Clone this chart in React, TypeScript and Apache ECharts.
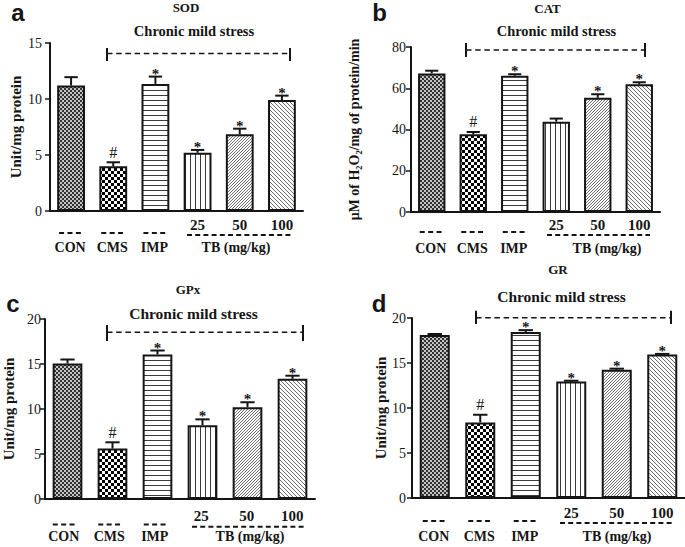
import React, { useEffect, useRef } from "react";
import * as echarts from "echarts";

// ---------- data ----------
const categories = ["CON", "CMS", "IMP", "25", "50", "100"];
const panelLetters = ["a", "b", "c", "d"];
const panelTitles = ["SOD", "CAT", "GPx", "GR"];
const yAxisNames = ["Unit/mg protein", "μM of H₂O₂/mg of protein/min", "Unit/mg protein", "Unit/mg protein"];
const yMax = [15, 80, 20, 20];
const yInterval = [5, 20, 5, 5];
const stressLabel = "Chronic mild stress";
const doseGroupLabel = "TB (mg/kg)";

const sodMean = [11.2, 4.0, 11.35, 5.2, 6.85, 9.9];
const sodErr = [0.75, 0.35, 0.65, 0.25, 0.5, 0.4];
const sodMarks = ["", "#", "*", "*", "*", "*"];

const catMean = [67.2, 37.7, 66.1, 43.8, 55.4, 61.9];
const catErr = [1.3, 1.1, 0.7, 1.5, 1.7, 1.0];
const catMarks = ["", "#", "*", "", "*", "*"];

const gpxMean = [15.05, 5.6, 16.05, 8.2, 10.2, 13.35];
const gpxErr = [0.45, 0.7, 0.45, 0.65, 0.55, 0.35];
const gpxMarks = ["", "#", "*", "*", "*", "*"];

const grMean = [18.1, 8.4, 18.45, 12.95, 14.25, 15.95];
const grErr = [0.12, 0.85, 0.2, 0.08, 0.12, 0.06];
const grMarks = ["", "#", "*", "*", "*", "*"];

const means = [sodMean, catMean, gpxMean, grMean];
const errs = [sodErr, catErr, gpxErr, grErr];
const marks = [sodMarks, catMarks, gpxMarks, grMarks];

// ---------- layout ----------
const LAYOUT = [
  { grid: { left: 50, top: 43, width: 253, height: 168 }, letter: [18, 12.5], title: [186, 7], stress: [194, 30.5], stressSize: 14.5,
    bracket: { x1: 107, x2: 290, y: 53.5, t: 48, b: 61 }, nameGap: 27, labelMargin: 8,
    numY: 225, dashY: 233, nameY: 247, tbY: 235, tbX: [187, 293], tbTextX: 236 },
  { grid: { left: 411, top: 47, width: 249, height: 165 }, letter: [379.5, 12.5], title: [547.5, 8], stress: [556.5, 31.3], stressSize: 14.4,
    bracket: { x1: 466, x2: 645, y: 50, t: 43, b: 57 }, nameGap: 50, labelMargin: 5,
    numY: 225, dashY: 232, nameY: 248, tbY: 235, tbX: [547, 650], tbTextX: 607 },
  { grid: { left: 42, top: 319, width: 273, height: 180 }, letter: [13, 303.5], title: [188, 289.5], stress: [193.5, 313], stressSize: 15.5,
    bracket: { x1: 107, x2: 303, y: 332.3, t: 325, b: 341 }, nameGap: 29, labelMargin: 4,
    numY: 516, dashY: 524.5, nameY: 536.7, tbY: 526.7, tbX: [192, 304], tbTextX: 250 },
  { grid: { left: 412, top: 318, width: 273, height: 180 }, letter: [379, 303.5], title: [558, 269], stress: [561.5, 296.7], stressSize: 15.5,
    bracket: { x1: 476, x2: 671, y: 317.7, t: 310.7, b: 324 }, nameGap: 20.5, labelMargin: 6,
    numY: 512.7, dashY: 521, nameY: 536.5, tbY: 523, tbX: [560, 673], tbTextX: 617 },
];

const SERIF = "'Liberation Serif', 'Times New Roman', serif";
const SANS = "'Liberation Sans', Arial, sans-serif";
const INK = "#151515";

function makePattern(kind: string) {
  const c = document.createElement("canvas");
  let w = 4, h = 4;
  if (kind === "fine") { w = 4; h = 4; }
  if (kind === "check") { w = 6; h = 6; }
  if (kind === "hline") { w = 6; h = 5; }
  if (kind === "vline") { w = 5; h = 6; }
  if (kind === "diagR") { w = 3; h = 3; }
  if (kind === "diagL") { w = 4; h = 4; }
  c.width = w; c.height = h;
  const ctx = c.getContext("2d")!;
  ctx.fillStyle = "#ffffff";
  ctx.fillRect(0, 0, w, h);
  if (kind === "fine") {
    ctx.fillStyle = "#c4c4c4";
    ctx.fillRect(0, 0, w, h);
    ctx.fillStyle = "#333333";
    ctx.fillRect(0, 0, 2, 2);
    ctx.fillRect(2, 2, 2, 2);
  } else if (kind === "check") {
    ctx.fillStyle = "#000000";
    ctx.fillRect(0, 0, 3, 3);
    ctx.fillRect(3, 3, 3, 3);
  } else if (kind === "hline") {
    ctx.fillStyle = "#3a3a3a";
    ctx.fillRect(0, 0, w, 1);
  } else if (kind === "vline") {
    ctx.fillStyle = "#3a3a3a";
    ctx.fillRect(0, 0, 1, h);
  } else if (kind === "diagR") {
    ctx.fillStyle = "#707070";
    for (let x = 0; x < w; x++) ctx.fillRect(x, h - 1 - x, 1, 1);
  } else if (kind === "diagL") {
    ctx.fillStyle = "#6a6a6a";
    for (let x = 0; x < w; x++) ctx.fillRect(x, x, 1, 1);
  }
  return { image: c, repeat: "repeat", imageWidth: w, imageHeight: h } as any;
}

function textEl(x: number, y: number, text: string, size: number, weight: string, family: string) {
  return {
    type: "text", x, y, silent: true,
    style: {
      text, fontSize: size, fontWeight: weight, fontFamily: family, fill: INK,
      textAlign: "center", textVerticalAlign: "middle", align: "center", verticalAlign: "middle",
    },
  };
}

function lineEl(x1: number, y1: number, x2: number, y2: number, width: number, dash?: number[]) {
  return {
    type: "line", silent: true,
    shape: { x1, y1, x2, y2 },
    style: { stroke: INK, lineWidth: width, lineDash: dash || null },
  };
}

export default function App() {
  const ref = useRef<HTMLDivElement>(null);
  useEffect(() => {
    document.body.style.margin = "0";
    if (!ref.current) return;
    const chart = echarts.init(ref.current, null, { renderer: "svg" });
    const kinds = ["fine", "check", "hline", "vline", "diagR", "diagL"];
    const patterns = kinds.map((k) => makePattern(k));

    const grids: any[] = [];
    const xAxes: any[] = [];
    const yAxes: any[] = [];
    const series: any[] = [];
    const graphics: any[] = [];

    LAYOUT.forEach((L, p) => {
      grids.push({ ...L.grid, containLabel: false });
      xAxes.push({
        type: "category", gridIndex: p, data: categories,
        axisLine: { lineStyle: { color: INK, width: 2 } },
        axisTick: { alignWithLabel: true, length: 5, lineStyle: { color: INK, width: 1.5 } },
        axisLabel: { show: false },
      });
      yAxes.push({
        type: "value", gridIndex: p, min: 0, max: yMax[p], interval: yInterval[p],
        name: yAxisNames[p], nameLocation: "middle", nameGap: L.nameGap,
        nameTextStyle: { fontFamily: SERIF, fontWeight: "bold", fontSize: p === 1 ? 14 : 15, color: INK },
        axisLine: { show: true, lineStyle: { color: INK, width: 2 } },
        axisTick: { show: true, length: 5, lineStyle: { color: INK, width: 1.5 } },
        axisLabel: { fontFamily: SERIF, fontSize: 14, color: INK, margin: L.labelMargin },
        splitLine: { show: false },
      });
      series.push({
        type: "bar", xAxisIndex: p, yAxisIndex: p, barWidth: "66%",
        data: means[p].map((v, i) => ({ value: v, itemStyle: { color: patterns[i] } })),
        itemStyle: { borderColor: INK, borderWidth: 2 },
        z: 2,
      });
      const mk = marks[p];
      series.push({
        type: "custom", xAxisIndex: p, yAxisIndex: p, z: 3,
        encode: { x: 0, y: 1 },
        data: means[p].map((v, i) => [i, v, errs[p][i]]),
        renderItem: (params: any, api: any) => {
          const x = api.value(0), m = api.value(1), e = api.value(2);
          const p0 = api.coord([x, m]);
          const p1 = api.coord([x, m + e]);
          const bw = api.size([1, 0])[0] * 0.66;
          const hw = bw * 0.24;
          const sym = mk[params.dataIndex];
          const children: any[] = [
            { type: "line", shape: { x1: p0[0], y1: p0[1], x2: p1[0], y2: p1[1] }, style: { stroke: INK, lineWidth: 2 } },
            { type: "line", shape: { x1: p1[0] - hw, y1: p1[1], x2: p1[0] + hw, y2: p1[1] }, style: { stroke: INK, lineWidth: 2 } },
          ];
          if (sym) {
            const isHash = sym === "#";
            children.push({
              type: "text", x: p1[0], y: p1[1] - (isHash ? 10 : 3),
              style: {
                text: sym, fontSize: isHash ? 16 : 15, fontWeight: isHash ? "normal" : "bold", fontFamily: SERIF, fill: INK,
                textAlign: "center", textVerticalAlign: "middle", align: "center", verticalAlign: "middle",
              },
            });
          }
          return { type: "group", children };
        },
      });

      graphics.push(textEl(L.letter[0], L.letter[1], panelLetters[p], 24, "bold", SANS));
      graphics.push(textEl(L.title[0], L.title[1], panelTitles[p], 13, "bold", SERIF));
      graphics.push(textEl(L.stress[0], L.stress[1], stressLabel, L.stressSize, "bold", SERIF));
      const B = L.bracket;
      graphics.push(lineEl(B.x1, B.y, B.x2, B.y, 1.5, [5.5, 3.7]));
      graphics.push(lineEl(B.x1, B.t, B.x1, B.b, 2));
      graphics.push(lineEl(B.x2, B.t, B.x2, B.b, 2));
      const step = L.grid.width / categories.length;
      categories.forEach((c, i) => {
        const cx = L.grid.left + step * (i + 0.5);
        if (i < 3) {
          graphics.push(lineEl(cx - 12, L.dashY, cx + 10, L.dashY, 2, [5, 3.4]));
          graphics.push(textEl(cx - 1, L.nameY, c, 14, "bold", SERIF));
        } else {
          graphics.push(textEl(cx, L.numY, c, 15, "bold", SERIF));
        }
      });
      graphics.push(lineEl(L.tbX[0], L.tbY, L.tbX[1], L.tbY, 2, [5, 3.2]));
      graphics.push(textEl(L.tbTextX, L.nameY, doseGroupLabel, 14, "bold", SERIF));
    });

    chart.setOption({
      animation: false,
      backgroundColor: "#ffffff",
      grid: grids,
      xAxis: xAxes,
      yAxis: yAxes,
      series,
      graphic: { elements: graphics },
    });
    return () => chart.dispose();
  }, []);
  return <div ref={ref} style={{ width: 685, height: 547 }} />;
}
